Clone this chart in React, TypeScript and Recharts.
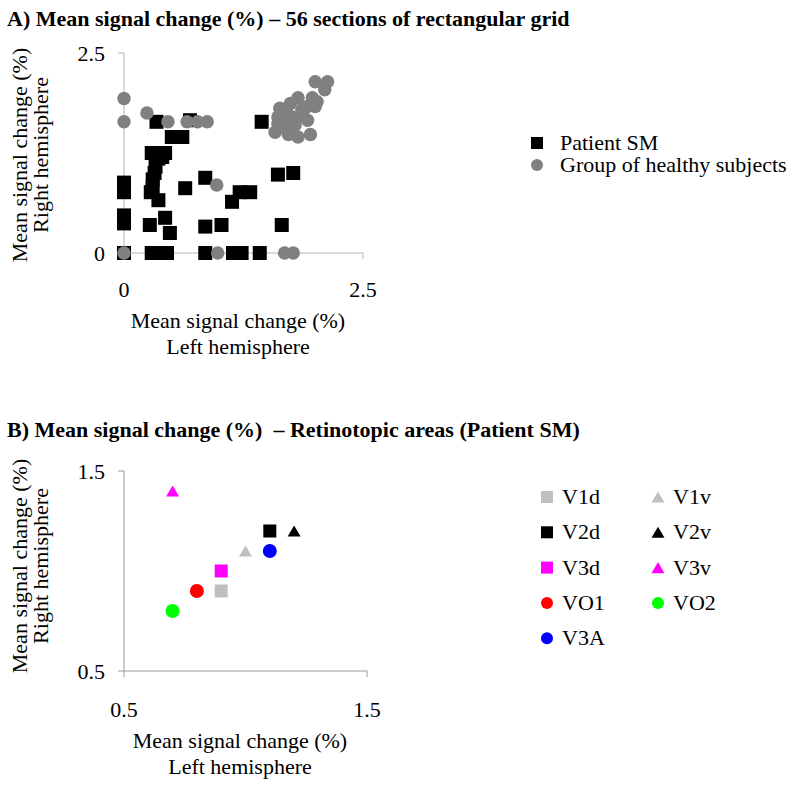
import React from 'react';
import { ScatterChart, Scatter, XAxis, YAxis, Legend, Label } from 'recharts';

const FONT = '"Liberation Serif", "Times New Roman", Times, serif';

// ---------- Panel A data: [left hemisphere, right hemisphere] ----------
const patientSM: [number, number][] = [
  [0, 0], [0.29, 0], [0.38, 0], [0.45, 0], [0.85, 0], [1.14, 0], [1.23, 0], [1.42, 0],
  [0, 0.37], [0, 0.47], [0, 0.76], [0, 0.88],
  [0.27, 0.35], [0.43, 0.44], [0.48, 0.25], [0.36, 0.66], [0.28, 0.76], [0.3, 0.82],
  [0.3, 0.92], [0.32, 1.0], [0.33, 1.08], [0.36, 1.18], [0.29, 1.25], [0.43, 1.25], [0.4, 1.2],
  [0.34, 1.64], [0.5, 1.45], [0.61, 1.45], [0.69, 1.66], [0.64, 0.81], [0.85, 0.94],
  [0.85, 0.33], [1.02, 0.35], [1.13, 0.64], [1.21, 0.76], [1.32, 0.76], [1.44, 1.64],
  [1.61, 0.98], [1.77, 1.0], [1.65, 0.35],
];
const healthyGroup: [number, number][] = [
  [0, 1.93], [0, 1.64], [0.24, 1.75], [0.46, 1.64], [0.66, 1.64], [0.77, 1.64], [0.87, 1.64],
  [0.97, 0.85], [0, 0], [0.98, 0], [1.68, 0], [1.77, 0],
  [2.0, 2.14], [2.13, 2.14], [2.1, 2.04], [1.97, 1.94], [2.02, 1.89], [1.82, 1.94], [1.74, 1.87],
  [1.63, 1.81], [1.61, 1.7], [1.61, 1.62], [1.76, 1.7], [1.86, 1.79], [1.92, 1.83], [1.79, 1.6],
  [1.92, 1.66], [2.0, 1.83], [1.58, 1.51], [1.72, 1.48], [1.82, 1.45], [1.95, 1.48], [1.68, 1.56],
  [1.7, 1.75], [1.8, 1.68], [1.67, 1.66], [1.87, 1.72], [1.72, 1.62],
];
const seriesNamesA = ['Patient SM', 'Group of healthy subjects'];
const ticksA = [0, 2.5];

// ---------- Panel B data ----------
const areaNames = ['V1d', 'V1v', 'V2d', 'V2v', 'V3d', 'V3v', 'VO1', 'VO2', 'V3A'];
const areaLeft = [0.9, 1.0, 1.1, 1.2, 0.9, 0.7, 0.8, 0.7, 1.1];
const areaRight = [0.9, 1.1, 1.2, 1.2, 1.0, 1.4, 0.9, 0.8, 1.1];
const ticksB = [0.5, 1.5];

// ---------- Styles ----------
const areaStyle: Record<string, { color: string; kind: string }> = {
  V1d: { color: '#bfbfbf', kind: 'square' },
  V1v: { color: '#bfbfbf', kind: 'triangle' },
  V2d: { color: '#000000', kind: 'square' },
  V2v: { color: '#000000', kind: 'triangle' },
  V3d: { color: '#ff00ff', kind: 'square' },
  V3v: { color: '#ff00ff', kind: 'triangle' },
  VO1: { color: '#ff0000', kind: 'circle' },
  VO2: { color: '#00ff00', kind: 'circle' },
  V3A: { color: '#0000ff', kind: 'circle' },
};

const toPoints = (arr: [number, number][]) => arr.map(([x, y]) => ({ x, y }));

function marker(kind: string, color: string, cx: number, cy: number, size: number, key?: string) {
  if (kind === 'square')
    return <rect key={key} x={cx - size / 2} y={cy - size / 2} width={size} height={size} fill={color} />;
  if (kind === 'circle') return <circle key={key} cx={cx} cy={cy} r={size / 2} fill={color} />;
  const h = size * 0.85;
  return (
    <polygon
      key={key}
      points={`${cx},${cy - h / 2} ${cx - size / 2},${cy + h / 2} ${cx + size / 2},${cy + h / 2}`}
      fill={color}
    />
  );
}

const shapeFor = (kind: string, color: string, size: number) => (props: any) =>
  marker(kind, color, props.cx, props.cy, size);

const tickStyle = { fill: '#000', fontSize: 22, fontFamily: FONT };

const yLabel = (cy: number) => () => (
  <g>
    <text transform={`translate(27,${cy}) rotate(-90)`} textAnchor="middle" fontSize={22} fontFamily={FONT} fill="#000">
      Mean signal change (%)
    </text>
    <text transform={`translate(48,${cy}) rotate(-90)`} textAnchor="middle" fontSize={22} fontFamily={FONT} fill="#000">
      Right hemisphere
    </text>
  </g>
);

const xLabel = (cx: number, y1: number) => () => (
  <g>
    <text x={cx} y={y1} textAnchor="middle" fontSize={22} fontFamily={FONT} fill="#000">
      Mean signal change (%)
    </text>
    <text x={cx} y={y1 + 26} textAnchor="middle" fontSize={22} fontFamily={FONT} fill="#000">
      Left hemisphere
    </text>
  </g>
);

const legendA = () => (
  <svg width={270} height={50} style={{ display: 'block', overflow: 'visible' }}>
    {marker('square', '#000', 7, 12, 12)}
    <text x={30} y={19} fontSize={22} fontFamily={FONT} fill="#000">{seriesNamesA[0]}</text>
    {marker('circle', '#808080', 7, 34, 12)}
    <text x={30} y={41} fontSize={22} fontFamily={FONT} fill="#000">{seriesNamesA[1]}</text>
  </svg>
);

const legendB = () => {
  const cols = [0, 111];
  const rowH = 35.3;
  return (
    <svg width={200} height={180} style={{ display: 'block', overflow: 'visible' }}>
      {areaNames.map((name, i) => {
        const col = i === 8 ? 0 : i % 2;
        const row = Math.floor(i / 2);
        const st = areaStyle[name];
        const mx = cols[col] + 7;
        const my = 12 + row * rowH;
        return (
          <g key={name}>
            {marker(st.kind, st.color, mx, my, st.kind === 'triangle' ? 13 : 12)}
            <text x={cols[col] + 22} y={my + 7} fontSize={22} fontFamily={FONT} fill="#000">
              {name}
            </text>
          </g>
        );
      })}
    </svg>
  );
};

export default function App() {
  const axisA = '#b3b3b3';
  const axisB = '#9a9a9a';
  return (
    <div style={{ position: 'absolute', left: 0, top: 0, width: 800, height: 786, background: '#fff' }}>
      <svg width={800} height={786} style={{ position: 'absolute', left: 0, top: 0 }}>
        <text x={7} y={26} fontSize={22} fontWeight="bold" fontFamily={FONT} fill="#000" style={{ whiteSpace: 'pre' }}>
          A) Mean signal change (%) – 56 sections of rectangular grid
        </text>
        <text x={7} y={437} fontSize={22} fontWeight="bold" fontFamily={FONT} fill="#000" style={{ whiteSpace: 'pre' }}>
          {'B) Mean signal change (%)  – Retinotopic areas (Patient SM)'}
        </text>
      </svg>

      <div style={{ position: 'absolute', left: 0, top: 0 }}>
        <ScatterChart width={800} height={390} margin={{ top: 53, right: 437, bottom: 77, left: 24 }}>
          <XAxis
            type="number"
            dataKey="x"
            domain={[0, 2.5]}
            ticks={ticksA}
            tickFormatter={(v: number) => String(v)}
            height={60}
            stroke={axisA}
            tickLine={{ stroke: axisA }}
            tickSize={6}
            tickMargin={22}
            tick={tickStyle}
          >
            <Label content={xLabel(238, 328)} />
          </XAxis>
          <YAxis
            type="number"
            dataKey="y"
            domain={[0, 2.5]}
            ticks={ticksA}
            tickFormatter={(v: number) => String(v)}
            width={100}
            stroke={axisA}
            tickLine={{ stroke: axisA }}
            tickSize={6}
            tickMargin={13}
            tick={tickStyle}
          >
            <Label content={yLabel(155)} />
          </YAxis>
          <Scatter
            name={seriesNamesA[0]}
            data={toPoints(patientSM)}
            fill="#000"
            shape={shapeFor('square', '#000', 14)}
            isAnimationActive={false}
          />
          <Scatter
            name={seriesNamesA[1]}
            data={toPoints(healthyGroup)}
            fill="#808080"
            shape={shapeFor('circle', '#808080', 13.5)}
            isAnimationActive={false}
          />
          <Legend
            layout="horizontal"
            align="center"
            verticalAlign="middle"
            width={270}
            wrapperStyle={{ left: 530, top: 131, width: 270 }}
            content={legendA}
          />
        </ScatterChart>
      </div>

      <div style={{ position: 'absolute', left: 0, top: 400 }}>
        <ScatterChart width={800} height={386} margin={{ top: 71, right: 433, bottom: 55, left: 24 }}>
          <XAxis
            type="number"
            dataKey="x"
            domain={[0.5, 1.5]}
            ticks={ticksB}
            tickFormatter={(v: number) => v.toFixed(1)}
            height={60}
            stroke={axisB}
            tickLine={{ stroke: axisB }}
            tickSize={6}
            tickMargin={24}
            tick={tickStyle}
          >
            <Label content={xLabel(240, 348)} />
          </XAxis>
          <YAxis
            type="number"
            dataKey="y"
            domain={[0.5, 1.5]}
            ticks={ticksB}
            tickFormatter={(v: number) => v.toFixed(1)}
            width={100}
            stroke={axisB}
            tickLine={{ stroke: axisB }}
            tickSize={6}
            tickMargin={13}
            tick={tickStyle}
          >
            <Label content={yLabel(166)} />
          </YAxis>
          {areaNames.map((name, i) => (
            <Scatter
              key={name}
              name={name}
              data={[{ x: areaLeft[i], y: areaRight[i] }]}
              fill={areaStyle[name].color}
              shape={shapeFor(
                areaStyle[name].kind,
                areaStyle[name].color,
                areaStyle[name].kind === 'square' ? 13 : areaStyle[name].kind === 'circle' ? 14 : 13
              )}
              isAnimationActive={false}
            />
          ))}
          <Legend
            layout="horizontal"
            align="center"
            verticalAlign="middle"
            width={200}
            wrapperStyle={{ left: 540, top: 85, width: 200 }}
            content={legendB}
          />
        </ScatterChart>
      </div>
    </div>
  );
}
